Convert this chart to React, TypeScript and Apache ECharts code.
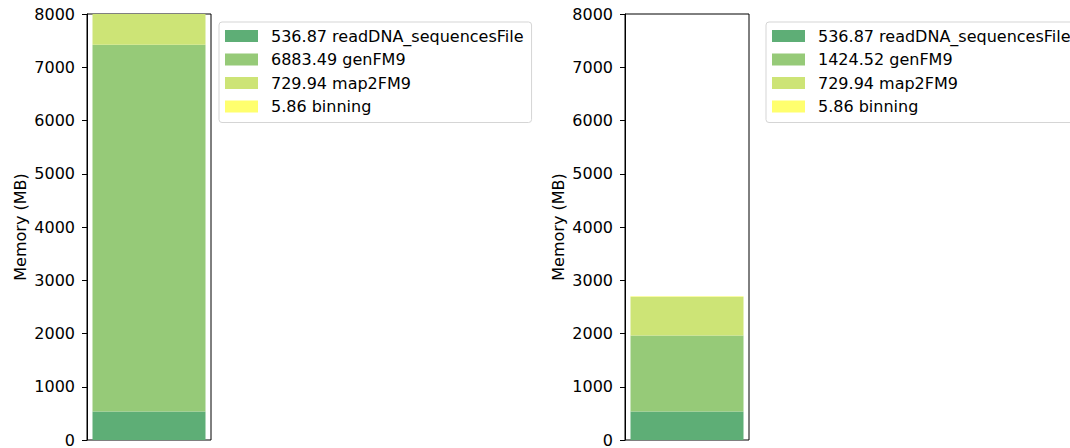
import React, { useEffect, useRef } from "react";
import * as echarts from "echarts";

// Pipeline stages and their peak memory (MB) for the two runs
const stages = ["readDNA_sequencesFile", "genFM9", "map2FM9", "binning"];
const memoryRunA = [536.87, 6883.49, 729.94, 5.86];
const memoryRunB = [536.87, 1424.52, 729.94, 5.86];
const stageColors = ["#5EAE76", "#96CA78", "#CDE476", "#FFFF6E"];
const yTicks = { min: 0, max: 8000, interval: 1000 };

const FONT = "DejaVu Sans";
const FS = 16;

const label = (v: number, s: string) => `${v.toFixed(2)} ${s}`;

export default function App() {
  const ref = useRef<HTMLDivElement>(null);

  useEffect(() => {
    if (!ref.current) return;
    const chart = echarts.init(ref.current, null, { renderer: "svg" });

    const panels = [
      { values: memoryRunA, gridLeft: 87, legendLeft: 219 },
      { values: memoryRunB, gridLeft: 625, legendLeft: 766 },
    ];

    const grid = panels.map((p) => ({
      left: p.gridLeft,
      top: 14,
      width: 124,
      height: 426,
      show: true,
      borderColor: "#000",
      borderWidth: 1,
      backgroundColor: "transparent",
    }));

    const xAxis = panels.map((_, i) => ({
      type: "category" as const,
      gridIndex: i,
      data: ["run"],
      axisLine: { show: false },
      axisTick: { show: false },
      axisLabel: { show: false },
      splitLine: { show: false },
    }));

    const yAxis = panels.map((_, i) => ({
      type: "value" as const,
      gridIndex: i,
      min: yTicks.min,
      max: yTicks.max,
      interval: yTicks.interval,
      name: "Memory (MB)",
      nameLocation: "middle" as const,
      nameRotate: 90,
      nameGap: 59,
      nameTextStyle: { fontFamily: FONT, fontSize: FS, color: "#000" },
      axisLine: { show: true, lineStyle: { color: "#000", width: 1 } },
      axisTick: { show: true, length: 5, lineStyle: { color: "#000" } },
      axisLabel: {
        margin: 12,
        fontFamily: FONT,
        fontSize: FS,
        color: "#000",
        formatter: (v: number) => String(v),
      },
      splitLine: { show: false },
    }));

    const series: any[] = [];
    panels.forEach((p, i) => {
      stages.forEach((s, k) => {
        series.push({
          type: "bar",
          name: label(p.values[k], s),
          xAxisIndex: i,
          yAxisIndex: i,
          stack: `run${i}`,
          barWidth: 113,
          clip: true,
          data: [p.values[k]],
          itemStyle: { color: stageColors[k] },
          emphasis: { disabled: true },
        });
      });
    });

    const legend = panels.map((p) => ({
      orient: "vertical" as const,
      left: p.legendLeft,
      top: 22,
      itemWidth: 33,
      itemHeight: 12,
      itemGap: 7.5,
      padding: [6, 8, 8, 6],
      borderColor: "#d5d5d5",
      borderWidth: 1,
      borderRadius: 3,
      backgroundColor: "rgba(255,255,255,0.8)",
      icon: "rect",
      selectedMode: false,
      data: stages.map((s, k) => ({
        name: label(p.values[k], s),
        itemStyle: { color: stageColors[k] },
      })),
      textStyle: {
        fontFamily: FONT,
        fontSize: FS,
        color: "#000",
        padding: [0, 0, 0, 8],
      },
    }));

    chart.setOption({
      animation: false,
      backgroundColor: "#fff",
      grid,
      xAxis,
      yAxis,
      legend,
      series,
    });

    return () => chart.dispose();
  }, []);

  return (
    <div
      ref={ref}
      style={{ position: "fixed", left: 0, top: 0, width: 1070, height: 448 }}
    />
  );
}
